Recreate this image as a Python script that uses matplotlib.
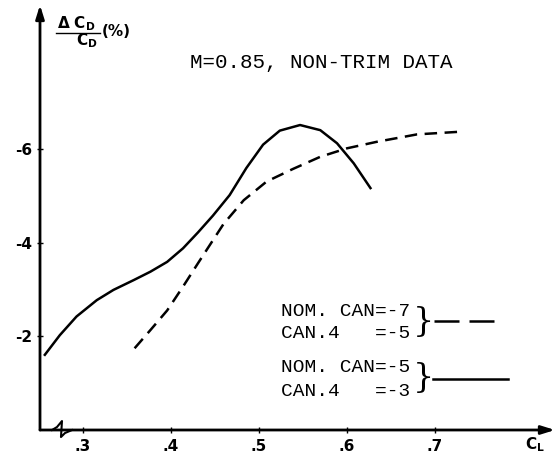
import matplotlib.pyplot as plt

# solid curve: NOM. CAN=-5 / CAN.4=-3
cl_solid = [0.257, 0.274, 0.293, 0.316, 0.335, 0.358, 0.377, 0.396, 0.414,
            0.431, 0.448, 0.467, 0.486, 0.505, 0.524, 0.547, 0.570, 0.589,
            0.608, 0.627]
dcd_solid = [-1.60, -2.02, -2.42, -2.77, -2.99, -3.20, -3.38, -3.59, -3.88,
             -4.22, -4.58, -5.02, -5.60, -6.10, -6.40, -6.52, -6.41, -6.13,
             -5.70, -5.17]

# dashed curve: NOM. CAN=-7 / CAN.4=-5
cl_dash = [0.359, 0.377, 0.396, 0.414, 0.431, 0.441, 0.460, 0.483, 0.509,
           0.539, 0.570, 0.600, 0.634, 0.680, 0.732]
dcd_dash = [-1.74, -2.13, -2.55, -3.06, -3.56, -3.85, -4.40, -4.91, -5.31,
            -5.58, -5.84, -6.02, -6.16, -6.32, -6.38]

xticks = [0.3, 0.4, 0.5, 0.6, 0.7]
xlabels = ['.3', '.4', '.5', '.6', '.7']
yticks = [-2, -4, -6]
ylabels = ['-2', '-4', '-6']

W, H = 558, 467
fig = plt.figure(figsize=(W / 100, H / 100), dpi=100)
ax = fig.add_axes([40 / W, 37 / H, 515 / W, 425 / H])

ax.plot(cl_solid, dcd_solid, color='black', lw=1.8)
ax.plot(cl_dash, dcd_dash, color='black', lw=1.8, dashes=(5, 3))

ax.set_xlim(0.2515, 0.8367)
ax.set_ylim(0.01, -9.09)

for s in ax.spines.values():
    s.set_visible(False)

ax.set_xticks(xticks)
ax.set_xticklabels(xlabels, fontsize=11, fontweight='bold')
ax.set_yticks(yticks)
ax.set_yticklabels(ylabels, fontsize=11, fontweight='bold')
ax.tick_params(axis='both', direction='inout', length=5, width=1)
ax.tick_params(axis='x', pad=4)
ax.tick_params(axis='y', pad=3)

# axes drawn as arrows
arrow = dict(arrowstyle='-|>,head_length=0.8,head_width=0.25', lw=2,
             color='black', shrinkA=0, shrinkB=0)
ax.annotate('', xy=(1, 0), xytext=(0, 0), xycoords='axes fraction',
            arrowprops=arrow, annotation_clip=False)
ax.annotate('', xy=(0, 1), xytext=(0, 0), xycoords='axes fraction',
            arrowprops=arrow, annotation_clip=False)

# axis break mark (pixel offsets turned into data units)
bx = [52, 57, 62, 61, 65, 72]
by = [430, 427, 421, 437, 433, 430]
ax.plot([0.3 + (p - 82.7) / 880 for p in bx],
        [-(429.5 - p) / 46.7 for p in by],
        color='black', lw=1.5, clip_on=False)

# labels
fig.text(57 / W, 1 - 24 / H, r'$\mathbf{\Delta\ C_D}$', fontsize=11,
         ha='left', va='center')
fig.add_artist(plt.Line2D([56 / W, 100 / W], [1 - 33 / H, 1 - 33 / H],
                          color='black', lw=1))
fig.text(76 / W, 1 - 41 / H, r'$\mathbf{C_D}$', fontsize=11,
         ha='left', va='center')
fig.text(102 / W, 1 - 32 / H, '(%)', fontsize=11, fontweight='bold',
         ha='left', va='center')
fig.text(535 / W, 1 - 445 / H, r'$\mathbf{C_L}$', fontsize=11,
         ha='center', va='center')

mono = 'Liberation Mono'
fig.text(190 / W, 1 - 62 / H, 'M=0.85, NON-TRIM DATA', fontsize=15,
         family=mono, ha='left', va='center')

fig.text(281 / W, 1 - 311 / H, 'NOM. CAN=-7', fontsize=14, family=mono,
         ha='left', va='center')
fig.text(281 / W, 1 - 334 / H, 'CAN.4   =-5', fontsize=14, family=mono,
         ha='left', va='center')
fig.text(281 / W, 1 - 367 / H, 'NOM. CAN=-5', fontsize=14, family=mono,
         ha='left', va='center')
fig.text(281 / W, 1 - 391 / H, 'CAN.4   =-3', fontsize=14, family=mono,
         ha='left', va='center')
fig.text(413 / W, 1 - 322 / H, '}', fontsize=24, family='DejaVu Serif',
         ha='left', va='center', fontweight='light')
fig.text(413 / W, 1 - 378 / H, '}', fontsize=24, family='DejaVu Serif',
         ha='left', va='center', fontweight='light')

fig.add_artist(plt.Line2D([434 / W, 503 / W], [1 - 321 / H, 1 - 321 / H],
                          color='black', lw=1.8, dashes=(10, 4)))
fig.add_artist(plt.Line2D([433 / W, 508 / W], [1 - 379 / H, 1 - 379 / H],
                          color='black', lw=1.8))

fig.savefig('out.png', dpi=100)
